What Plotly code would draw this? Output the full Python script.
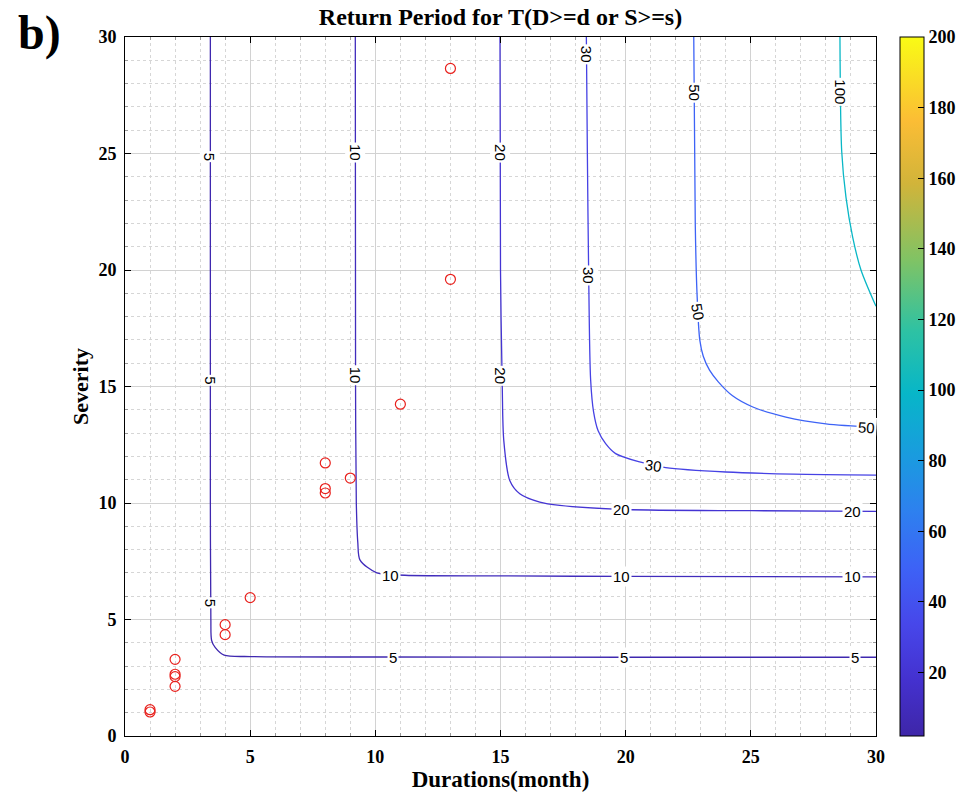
import plotly.graph_objects as go

# ---------------- data ----------------
levels = [5, 10, 20, 30, 50, 100]

c5_d = [3.41, 3.41, 3.43, 3.46, 3.60, 3.96, 5.0, 10.0, 20.0, 30.0]
c5_s = [30.0, 10.0, 5.0, 4.10, 3.80, 3.47, 3.41, 3.39, 3.38, 3.38]

c10_d = [9.20, 9.21, 9.24, 9.30, 9.39, 10.06, 11.18, 15.0, 20.0, 30.0]
c10_s = [30.0, 15.0, 10.0, 8.30, 7.55, 7.00, 6.90, 6.87, 6.85, 6.83]

c20_d = [14.98, 15.00, 15.07, 15.13, 15.37, 15.77, 16.57, 17.37, 20.0, 25.0, 30.0]
c20_s = [30.0, 20.0, 15.0, 12.70, 10.97, 10.40, 10.04, 9.90, 9.72, 9.67, 9.64]

c30_d = [18.43, 18.47, 18.52, 18.60, 18.72, 18.90, 19.20, 19.60, 20.56, 21.60, 24.0, 26.7, 30.0]
c30_s = [30.0, 25.0, 20.0, 15.30, 13.90, 13.10, 12.55, 12.12, 11.76, 11.52, 11.33, 11.24, 11.20]

c50_d = [22.72, 22.78, 22.85, 22.96, 23.10, 23.35, 23.70, 24.27, 25.08, 26.4, 28.0, 30.0]
c50_s = [30.0, 22.0, 19.0, 17.0, 16.30, 15.70, 15.20, 14.60, 14.12, 13.69, 13.40, 13.25]

c100_d = [28.56, 28.63, 28.80, 29.07, 29.40, 30.0]
c100_s = [30.0, 25.1, 23.13, 21.4, 20.0, 18.44]

contour_d = [c5_d, c10_d, c20_d, c30_d, c50_d, c100_d]
contour_s = [c5_s, c10_s, c20_s, c30_s, c50_s, c100_s]

# contour label placements: level, d, s, angle
label_level = [5, 5, 5, 5, 5, 5,
               10, 10, 10, 10, 10,
               20, 20, 20, 20,
               30, 30, 30,
               50, 50, 50,
               100]
label_d = [3.41, 3.41, 3.41, 10.7, 19.95, 29.15,
           9.20, 9.21, 10.6, 19.85, 29.05,
           14.99, 15.02, 19.83, 29.05,
           18.44, 18.49, 21.1,
           22.74, 22.87, 29.62,
           28.58]
label_s = [24.85, 15.25, 5.70, 3.39, 3.38, 3.38,
           25.05, 15.48, 6.90, 6.85, 6.83,
           25.05, 15.48, 9.72, 9.65,
           29.25, 19.75, 11.62,
           27.62, 18.20, 13.25,
           27.65]
label_angle = [90, 90, 90, 0, 0, 0,
               90, 90, 0, 0, 0,
               90, 90, 0, 0,
               90, 90, 8,
               90, 80, 3,
               90]

# observed drought events
event_duration = [1, 1, 2, 2, 2, 2, 4, 4, 5, 8, 8, 8, 9, 11, 13, 13]
event_severity = [1.03, 1.13, 3.29, 2.65, 2.55, 2.13, 4.78, 4.35, 5.94,
                  11.72, 10.62, 10.43, 11.07, 14.24, 19.6, 28.65]

x_ticks = [0, 5, 10, 15, 20, 25, 30]
y_ticks = [0, 5, 10, 15, 20, 25, 30]
cbar_ticks = [20, 40, 60, 80, 100, 120, 140, 160, 180, 200]
cbar_min, cbar_max = 2, 200

# parula-like colour scale
parula = [
    [0.00, "#3e26a8"], [0.08, "#4431cf"], [0.16, "#4747ea"], [0.24, "#3d62f6"],
    [0.32, "#2e80ef"], [0.40, "#1a9bdf"], [0.49, "#07b6c8"], [0.58, "#2ec2a3"],
    [0.68, "#7fc365"], [0.79, "#d1b43a"], [0.88, "#fbbd35"], [1.00, "#f9fb15"],
]


def hex2rgb(h):
    h = h.lstrip("#")
    return tuple(int(h[i:i + 2], 16) for i in (0, 2, 4))


def color_at(v):
    t = (v - cbar_min) / (cbar_max - cbar_min)
    t = min(max(t, 0), 1)
    for (p0, c0), (p1, c1) in zip(parula[:-1], parula[1:]):
        if p0 <= t <= p1:
            f = (t - p0) / (p1 - p0)
            a, b = hex2rgb(c0), hex2rgb(c1)
            r = [round(a[i] + f * (b[i] - a[i])) for i in range(3)]
            return "rgb(%d,%d,%d)" % tuple(r)
    return parula[-1][1]


fig = go.Figure()

for lev, d, s in zip(levels, contour_d, contour_s):
    fig.add_trace(go.Scatter(
        x=d, y=s, mode="lines", line=dict(color=color_at(lev), width=1.3, shape="spline", smoothing=0.8),
        hoverinfo="skip", showlegend=False))

fig.add_trace(go.Scatter(
    x=event_duration, y=event_severity, mode="markers",
    marker=dict(symbol="circle-open", size=10, color="#e8201c", line=dict(width=1.2)),
    showlegend=False))

# colorbar carrier
fig.add_trace(go.Scatter(
    x=[-10, -10], y=[-10, -10], mode="markers",
    marker=dict(size=1, color=[cbar_min, cbar_max], cmin=cbar_min, cmax=cbar_max,
                colorscale=parula, showscale=True,
                colorbar=dict(
                    x=1.0325, xanchor="left", xref="paper", y=0.5, yanchor="middle", len=1.0,
                    lenmode="fraction", thickness=24, thicknessmode="pixels",
                    outlinecolor="black", outlinewidth=1,
                    tickvals=cbar_ticks, ticks="inside", ticklen=6, tickcolor="black",
                    tickfont=dict(family="Liberation Serif", size=18, color="black", weight="bold"),
                    xpad=0, ypad=0)),
    hoverinfo="skip", showlegend=False))

for lev, d, s, ang in zip(label_level, label_d, label_s, label_angle):
    fig.add_annotation(x=d, y=s, xref="x", yref="y", text=str(lev), showarrow=False,
                       textangle=ang, bgcolor="white", borderpad=1,
                       font=dict(family="Liberation Sans", size=15, color="black"))

fig.add_annotation(xref="paper", yref="paper", x=-0.145, y=1.047, xanchor="left", yanchor="top",
                   text="b)", showarrow=False,
                   font=dict(family="Liberation Serif", size=48, color="black", weight="bold"))

axis_common = dict(
    range=[0, 30], showline=True, linecolor="black", linewidth=1, mirror="ticks",
    ticks="inside", ticklen=6, tickcolor="black", showgrid=True, gridcolor="#d2d2d2",
    gridwidth=1, zeroline=False, ticklabelstandoff=4, automargin=False,
    tickfont=dict(family="Liberation Serif", size=18, color="black", weight="bold"),
    minor=dict(dtick=1, showgrid=True, gridcolor="#d6d6d6", griddash="dot", gridwidth=1,
               ticks="inside", ticklen=3, tickcolor="#999999"),
)

fig.update_xaxes(**axis_common, tickvals=x_ticks,
                 title=dict(text="Durations(month)", standoff=3,
                            font=dict(family="Liberation Serif", size=23, color="black", weight="bold")))
fig.update_yaxes(**axis_common, tickvals=y_ticks,
                 title=dict(text="Severity", standoff=3,
                            font=dict(family="Liberation Serif", size=22, color="black", weight="bold")))

fig.update_layout(
    width=970, height=794, autosize=False,
    margin=dict(l=125, r=94, t=37, b=58, autoexpand=False),
    paper_bgcolor="white", plot_bgcolor="white",
    title=dict(text="Return Period for T(D>=d or S>=s)", x=0.5, xref="paper", xanchor="center",
               y=0.979, yanchor="middle", yref="container",
               font=dict(family="Liberation Serif", size=24, color="black", weight="bold")),
)

fig.write_html("out.html")
